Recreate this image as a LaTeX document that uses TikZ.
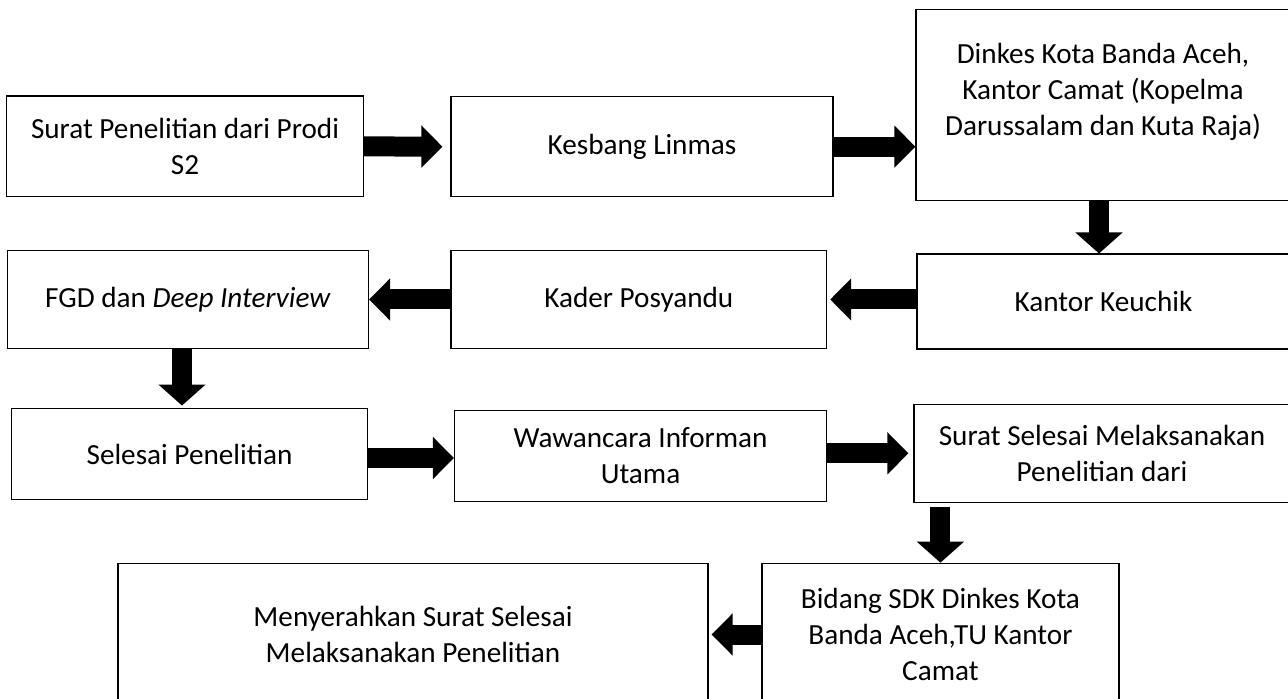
\documentclass[tikz,border=0pt]{standalone}
\usepackage{fontspec}
\setmainfont{Carlito}
\usetikzlibrary{arrows.meta}

\begin{document}
\begin{tikzpicture}[x=0.5pt, y=-0.5pt,
		stage/.style={draw, line width=0.6pt, inner sep=0pt, align=center,
			font=\fontsize{14.6pt}{18pt}\selectfont},
		sz/.style 2 args={minimum width=0.5pt*#1, minimum height=0.5pt*#2},
		blok/.style={line width=10pt, -{Triangle[width=#1, length=10.5pt]}},
		blok/.default=20.5pt]
		\useasboundingbox (0,0) rectangle (1288,699);
		\clip (0,0) rectangle (1288,699);
		
		% First row
		\node[stage, sz={357}{100.7}] (surat) at (185,146.4) {Surat Penelitian dari Prodi\\S2};
		\node[stage, sz={382}{100}] (kesbang) at (642,146.7) {Kesbang Linmas};
		\node[stage, sz={374}{191}] (dinkes) at (1103,105) {Dinkes Kota Banda Aceh,\\Kantor Camat (Kopelma\\Darussalam dan Kuta Raja)\\[-8pt] \strut};
		
		% Second row
		\node[stage, sz={373}{95}] (keuchik) at (1103.5,301.6) {Kantor Keuchik};
		\node[stage, sz={375.6}{97.6}] (kader) at (638.8,299.5) {Kader Posyandu};
		\node[stage, sz={361}{97.6}] (fgd) at (188,299.5) {FGD dan \textit{Deep Interview}};
		
		% Third row
		\node[stage, sz={356}{91.7}] (selesai) at (189.5,454) {Selesai Penelitian};
		\node[stage, sz={372}{91.6}] (wawancara) at (640.5,456) {Wawancara Informan\\Utama};
		\node[stage, sz={376}{98}] (suratsls) at (1102,453.3) {Surat Selesai Melaksanakan\\Penelitian dari};
		
		% Last row
		\node[stage, sz={357}{142.4}] (bidang) at (940.4,634.5) {Bidang SDK Dinkes Kota\\Banda Aceh,TU Kantor\\Camat};
		\node[stage, sz={590}{142.4}] (serah) at (413,634.5) {Menyerahkan Surat Selesai\\Melaksanakan Penelitian};
		
		% Block arrows
		\draw[blok, shorten >=4pt] (surat.east) -- (kesbang.west);
		\draw[blok] (kesbang.east) -- (kesbang.east -| dinkes.west);
		\draw[blok=23pt] ([xshift=-2pt]dinkes.south) -- ([xshift=-2pt]dinkes.south |- keuchik.north);
		\draw[blok, shorten >=1.5pt] (keuchik.west |- kader.east) -- (kader.east);
		\draw[blok] (kader.west) -- (fgd.east);
		\draw[blok=23pt, shorten >=1pt] ([xshift=-3pt]fgd.south) -- ([xshift=-3pt]fgd.south |- selesai.north);
		\draw[blok] ([yshift=-2pt]selesai.east) -- ([yshift=-2pt]selesai.east -| wawancara.west);
		\draw[blok, shorten >=2.5pt] (wawancara.east |- suratsls.west) -- (suratsls.west);
		\draw[blok=23pt, shorten <=2pt] (suratsls.south -| bidang.north) -- (bidang.north);
		\draw[blok, shorten >=1.5pt] (bidang.west) -- (serah.east);
	\end{tikzpicture}
\end{document}
